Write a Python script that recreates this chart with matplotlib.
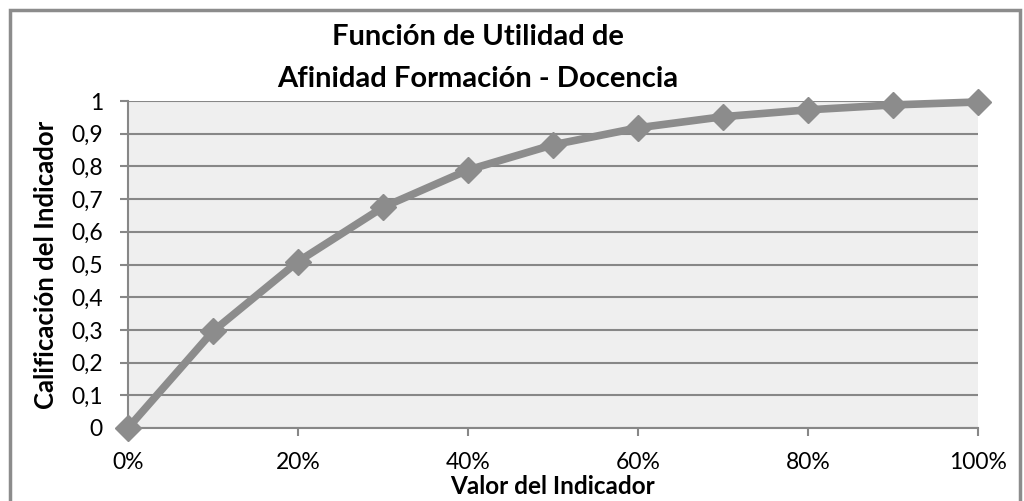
import matplotlib
matplotlib.use("Agg")
import matplotlib.pyplot as plt
from matplotlib.patches import Rectangle
from matplotlib.ticker import FuncFormatter, MultipleLocator

# Data
valor = [0.0, 0.1, 0.2, 0.3, 0.4, 0.5, 0.6, 0.7, 0.8, 0.9, 1.0]
calificacion = [0.0, 0.296, 0.509, 0.675, 0.789, 0.866, 0.918, 0.952, 0.973, 0.988, 0.997]

TITLE_LINES = ["Función de Utilidad de", "Afinidad Formación - Docencia"]
XLABEL = "Valor del Indicador"
YLABEL = "Calificación del Indicador"

LINE_GRAY = "#8c8c8c"
GRID_GRAY = "#878787"
FONT = ["Lato", "DejaVu Sans"]

plt.rcParams["font.family"] = FONT

W, H = 1024, 501
fig = plt.figure(figsize=(W / 100, H / 100), dpi=100)
ax = fig.add_axes([128 / W, 1 - 428 / H, 850 / W, 327 / H])
ax.set_facecolor("#efefef")

ax.plot(valor, calificacion, color=LINE_GRAY, linewidth=5.5,
        marker="D", markersize=13, markerfacecolor=LINE_GRAY,
        markeredgecolor=LINE_GRAY, clip_on=False, zorder=3)

ax.set_xlim(0, 1)
ax.set_ylim(0, 1)
ax.yaxis.set_major_locator(MultipleLocator(0.1))
ax.xaxis.set_major_locator(MultipleLocator(0.2))
ax.yaxis.set_major_formatter(FuncFormatter(
    lambda v, _: "0" if abs(v) < 1e-9 else ("1" if abs(v - 1) < 1e-9 else f"{v:.1f}".replace(".", ","))))
ax.xaxis.set_major_formatter(FuncFormatter(lambda v, _: f"{v * 100:.0f}%"))

ax.grid(axis="y", color=GRID_GRAY, linewidth=1.5)
ax.set_axisbelow(True)
for side in ("top", "right"):
    ax.spines[side].set_visible(False)
for side in ("left", "bottom"):
    ax.spines[side].set_color(GRID_GRAY)
    ax.spines[side].set_linewidth(1.5)

ax.tick_params(axis="both", colors=GRID_GRAY, width=1.5, length=6,
               labelsize=16.5, labelcolor="black")
ax.tick_params(axis="y", pad=12)
ax.tick_params(axis="x", pad=11)

ax.set_xlabel(XLABEL, fontsize=17.5, fontweight="bold", va="center")
ax.xaxis.set_label_coords(0.5, (428 - 486) / 327)
ax.set_ylabel(YLABEL, fontsize=18.5, fontweight="bold", va="center")
ax.yaxis.set_label_coords((46 - 128) / 850, 0.5)

for line, base in zip(TITLE_LINES, (45, 87)):
    fig.text(478 / W, 1 - base / H, line, ha="center", va="baseline",
             fontsize=21, fontweight="bold")

# outer chart border (bottom edge cut off in the reference)
fig.patches.append(Rectangle((10 / W, -0.05), 1010 / W, 1.05 - 10 / H,
                             transform=fig.transFigure, fill=False,
                             edgecolor="#8c8c8c", linewidth=2.5))

fig.savefig("out.png", dpi=100)
